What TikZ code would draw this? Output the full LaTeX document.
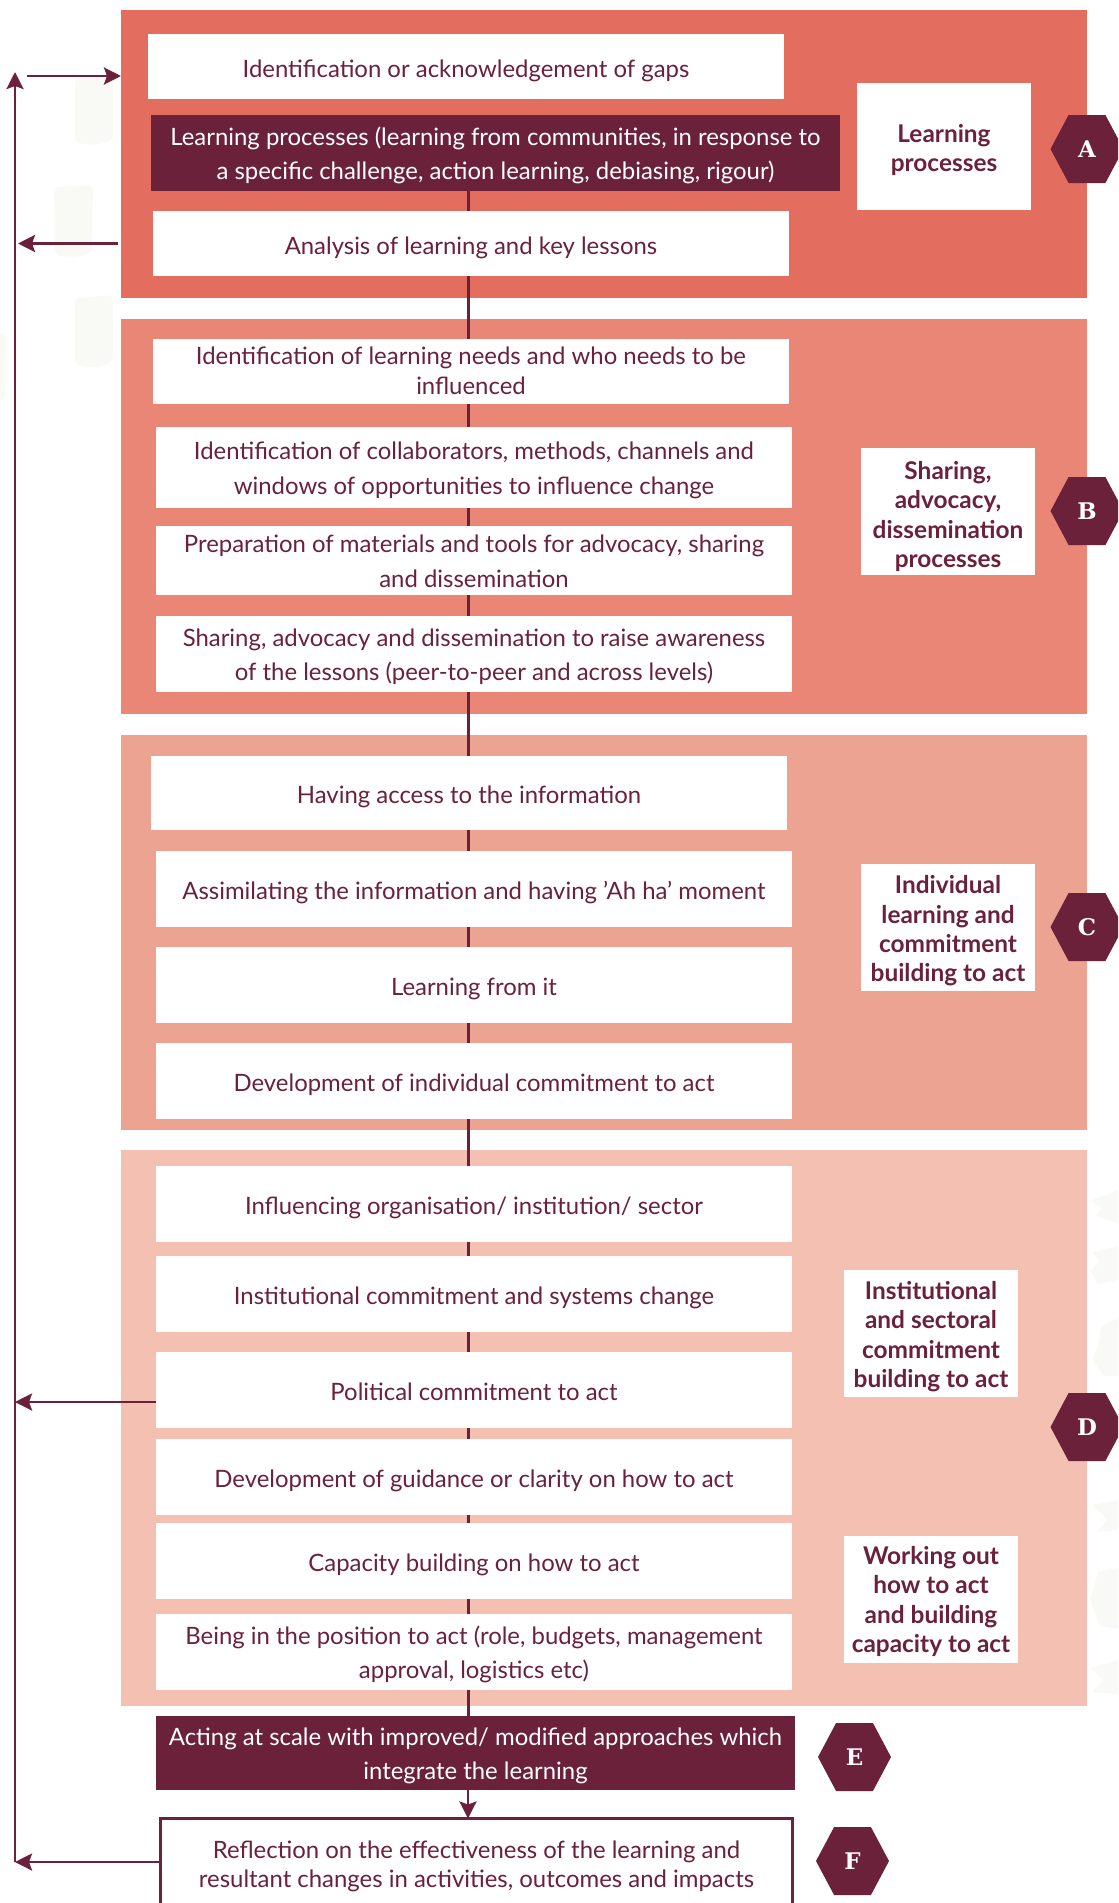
\documentclass[tikz,border=0pt]{standalone}
\usepackage{fontspec}
\setmainfont{Lato}
\newfontfamily\hexfont{DejaVu Serif}
\usetikzlibrary{arrows.meta, shapes.symbols}
\definecolor{maroon}{HTML}{6A2139}
\definecolor{panelA}{HTML}{E36E5F}
\definecolor{panelB}{HTML}{E98675}
\definecolor{panelC}{HTML}{ECA392}
\definecolor{panelD}{HTML}{F3C0B2}
\definecolor{brushgrey}{HTML}{F9F9F6}
% first line of a block of text, with some room above it
\newcommand{\lead}[1]{\rule{0pt}{#1bp}}
\tikzset{
    panel/.style={inner sep=0pt, outer sep=0pt, minimum width=966bp},
    stepbox/.style={fill=white, text=maroon, align=center, inner sep=0pt, outer sep=0pt, minimum width=636bp, minimum height=76bp, font=\fontsize{24}{35}\selectfont, execute at begin node={\rule[-7bp]{0pt}{35.4bp}}},
    multi/.style={execute at begin node={}},
    tightbox/.style={stepbox, font=\fontsize{24}{29.5}\selectfont},
    darkbox/.style={stepbox, fill=maroon, text=white},
    sidelabel/.style={fill=white, text=maroon, align=center, inner sep=0pt, outer sep=0pt, minimum width=174bp, minimum height=127bp, font=\fontsize{24.5}{29.5}\selectfont\bfseries},
    hexa/.style={signal, signal to=west and east, signal pointer angle=124, fill=maroon, text=white, inner sep=0pt, outer sep=0pt, minimum width=73bp, minimum height=68bp, font=\hexfont\fontsize{23}{24}\selectfont\bfseries},
    link/.style={maroon, line width=3bp},
    flow/.style={maroon, line width=2.8bp, -{Stealth[length=17bp, width=17bp, inset=3bp]}},
    brush/.style={fill=brushgrey, rounded corners=5bp},
    rag/.style={fill=brushgrey}
}
\begin{document}
\begin{tikzpicture}[x=1bp, y=-1bp]
\clip (0,0) rectangle (1118,1903);
% faint brush marks behind the flow
\fill[brush] (75,78) -- (113,76) -- (113,140) -- (96,145) -- (75,143) -- cycle;
\fill[brush] (54,187) -- (93,185) -- (92,253) -- (72,258) -- (55,255) -- cycle;
\fill[brush] (75,298) -- (113,295) -- (113,362) -- (96,368) -- (75,365) -- cycle;
\fill[brush] (-6,332) -- (6,333) -- (5,400) -- (-6,402) -- cycle;
\fill[rag] (1118,1190) -- (1104,1196) -- (1090,1200) -- (1102,1208) -- (1096,1216) -- (1118,1223) -- cycle;
\fill[rag] (1118,1246) -- (1092,1252) -- (1100,1262) -- (1090,1270) -- (1098,1284) -- (1118,1280) -- cycle;
\fill[rag] (1118,1318) -- (1102,1326) -- (1098,1345) -- (1092,1360) -- (1104,1376) -- (1118,1376) -- cycle;
\fill[rag] (1118,1500) -- (1092,1505) -- (1108,1520) -- (1096,1532) -- (1118,1530) -- cycle;
\fill[rag] (1118,1568) -- (1098,1572) -- (1090,1600) -- (1100,1626) -- (1118,1629) -- cycle;
\fill[rag] (1118,1660) -- (1090,1668) -- (1104,1680) -- (1092,1692) -- (1118,1694) -- cycle;

% coloured bands
\node[panel, fill=panelA, minimum height=288bp] (panelA) at (604,154) {};
\node[panel, fill=panelB, minimum height=395bp] (panelB) at (604,516.5) {};
\node[panel, fill=panelC, minimum height=395bp] (panelC) at (604,932.5) {};
\node[panel, fill=panelD, minimum height=556bp] (panelD) at (604,1428) {};

% steps
\node[tightbox, minimum height=65bp] (boxA1) at (466,66.5) {Identification or acknowledgement of gaps};
\node[darkbox, multi, minimum width=689bp] (boxA2) at (495.5,153) {\lead{26}Learning processes (learning from communities, in response to\\a specific challenge, action learning, debiasing, rigour)};
\node[tightbox, minimum height=65bp] (boxA3) at (471,243.5) {Analysis of learning and key lessons};

\node[tightbox, multi, minimum height=65bp] (boxB1) at (471,371.5) {\lead{23}Identification of learning needs and who needs to be\\influenced};
\node[stepbox, multi, minimum height=81bp] (boxB2) at (474,467.5) {\lead{26}Identification of collaborators, methods, channels and\\windows of opportunities to influence change};
\node[stepbox, multi, minimum height=69bp] (boxB3) at (474,560.5) {\lead{26}Preparation of materials and tools for advocacy, sharing\\and dissemination};
\node[stepbox, multi] (boxB4) at (474,654) {\lead{26}Sharing, advocacy and dissemination to raise awareness\\of the lessons (peer-to-peer and across levels)};

\node[stepbox, minimum height=74bp] (boxC1) at (469,793) {Having access to the information};
\node[stepbox] (boxC2) at (474,888.5) {Assimilating the information and having 'Ah ha' moment};
\node[stepbox] (boxC3) at (474,984.5) {Learning from it};
\node[stepbox] (boxC4) at (474,1081) {Development of individual commitment to act};

\node[stepbox] (boxD1) at (474,1204) {Influencing organisation/ institution/ sector};
\node[stepbox] (boxD2) at (474,1294) {Institutional commitment and systems change};
\node[stepbox] (boxD3) at (474,1390) {Political commitment to act};
\node[stepbox] (boxD4) at (474,1477) {Development of guidance or clarity on how to act};
\node[stepbox] (boxD5) at (474,1561) {Capacity building on how to act};
\node[stepbox, multi] (boxD6) at (474,1652) {\lead{26}Being in the position to act (role, budgets, management\\approval, logistics etc)};

\node[darkbox, multi, minimum width=639bp, minimum height=74bp] (boxE) at (475.5,1753) {\lead{26}Acting at scale with improved/ modified approaches which\\integrate the learning};
\node[tightbox, multi, draw=maroon, line width=3bp, minimum width=632bp, minimum height=93bp] (boxF) at (476.5,1865) {\lead{23}Reflection on the effectiveness of the learning and\\resultant changes in activities, outcomes and impacts};

% side labels
\node[sidelabel] (labelA) at (944,146.5) {\lead{25}Learning\\processes};
\node[sidelabel] (labelB) at (948,511) {\lead{29}Sharing,\\advocacy,\\dissemination\\processes};
\node[sidelabel] (labelC) at (948,927.5) {\lead{25}Individual\\learning and\\commitment\\building to act};
\node[sidelabel] (labelD1) at (931,1333) {\lead{25}Institutional\\and sectoral\\commitment\\building to act};
\node[sidelabel] (labelD2) at (931,1599) {\lead{23}Working out\\how to act\\and building\\capacity to act};

% letters
\node[hexa] (hexA) at (1087,149) {A};
\node[hexa] (hexB) at (1087,511) {B};
\node[hexa] (hexC) at (1087,927) {C};
\node[hexa] (hexD) at (1087,1427) {D};
\node[hexa] (hexE) at (854.5,1757) {E};
\node[hexa] (hexF) at (852.5,1861) {F};

% links down the middle
\coordinate (spine) at (468,0);
\foreach \from/\to in {boxA2/boxA3,boxA3/boxB1,boxB1/boxB2,boxB2/boxB3,boxB3/boxB4,boxB4/boxC1,boxC1/boxC2,boxC2/boxC3,boxC3/boxC4,boxC4/boxD1,boxD1/boxD2,boxD2/boxD3,boxD3/boxD4,boxD4/boxD5,boxD5/boxD6,boxD6/boxE} {
    \draw[link] (\from.south -| spine) -- (\to.north -| spine);
}
\draw[flow] (boxE.south -| spine) -- (boxF.north -| spine);

% feedback rail on the left
\coordinate (rail) at (15,72);
\coordinate (railIn) at (27,76);
\coordinate (railD) at (156,1402);
\coordinate (railF) at (159,1862);
\draw[flow] (railF -| rail) -- (rail);
\draw[flow] (railIn) -- (railIn -| panelA.west);
\draw[flow, shorten <=3bp, shorten >=3bp] (boxA3.west -| panelA.west) -- (boxA3.west -| rail);
\draw[flow] (railD) -- (railD -| rail);
\draw[flow] (railF) -- (railF -| rail);
\end{tikzpicture}
\end{document}
